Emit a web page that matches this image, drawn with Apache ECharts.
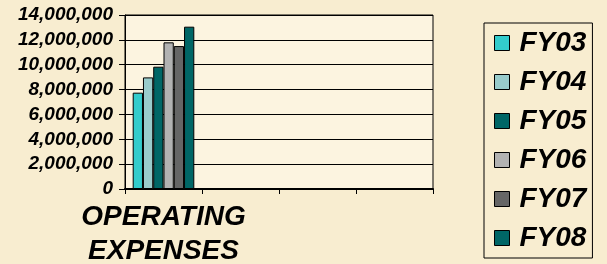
<!DOCTYPE html>
<html>
<head>
<meta charset="utf-8">
<script src="https://cdn.jsdelivr.net/npm/echarts@6/dist/echarts.min.js"></script>
<style>
html,body{margin:0;padding:0;background:#F8EDD0;}
#c{width:607px;height:264px;}
</style>
</head>
<body>
<div id="c"></div>
<script>
var categories = ['OPERATING\nEXPENSES', '', '', ''];
var seriesNames = ['FY03', 'FY04', 'FY05', 'FY06', 'FY07', 'FY08'];
var fy03 = [7750000];
var fy04 = [8980000];
var fy05 = [9840000];
var fy06 = [11800000];
var fy07 = [11500000];
var fy08 = [13060000];
var yTicks = [0, 2000000, 4000000, 6000000, 8000000, 10000000, 12000000, 14000000];
var colors = ['#33CCCC', '#99CCCC', '#006666', '#B2B2B2', '#666666', '#006666'];
var values = [fy03, fy04, fy05, fy06, fy07, fy08];

var font = "'Liberation Sans', Arial, sans-serif";
var chart = echarts.init(document.getElementById('c'));
chart.setOption({
  backgroundColor: '#F8EDD0',
  animation: false,
  grid: {
    left: 125, right: 174, top: 15, bottom: 75,
    outerBoundsMode: 'none', containLabel: false,
    show: true, backgroundColor: '#FCF4E0',
    borderColor: '#000', borderWidth: 1
  },
  legend: {
    orient: 'vertical',
    left: 484, top: 23,
    padding: [6, 6, 6, 10],
    itemGap: 11,
    itemWidth: 15, itemHeight: 15,
    icon: 'rect',
    borderColor: '#000', borderWidth: 1,
    backgroundColor: '#F8EDD0',
    itemStyle: { borderColor: '#000', borderWidth: 1 },
    textStyle: {
      fontFamily: font, fontSize: 28, fontWeight: 'bold', fontStyle: 'italic',
      color: '#000', padding: [0, 0, 0, 5], lineHeight: 28
    },
    data: seriesNames
  },
  xAxis: {
    type: 'category',
    data: categories,
    axisLine: { lineStyle: { color: '#000', width: 2 } },
    axisTick: { show: true, length: 5, lineStyle: { color: '#000' }, alignWithLabel: false },
    axisLabel: {
      interval: 0, margin: 11,
      fontFamily: font, fontSize: 28, fontWeight: 'bold', fontStyle: 'italic',
      color: '#000', lineHeight: 34
    }
  },
  yAxis: {
    type: 'value',
    min: yTicks[0], max: yTicks[yTicks.length - 1], interval: yTicks[1] - yTicks[0],
    axisLine: { show: true, lineStyle: { color: '#000', width: 1 } },
    axisTick: { show: true, length: 6, lineStyle: { color: '#000' } },
    splitLine: { lineStyle: { color: '#000', width: 1 } },
    axisLabel: {
      margin: 12,
      fontFamily: font, fontSize: 19, fontWeight: 'bold', fontStyle: 'italic',
      color: '#000',
      formatter: function (v) { return v.toLocaleString('en-US'); }
    }
  },
  series: seriesNames.map(function (n, i) {
    return {
      name: n, type: 'bar', data: values[i],
      barGap: '0%', barCategoryGap: '20%',
      itemStyle: { color: colors[i], borderColor: '#000', borderWidth: 1 }
    };
  })
});
</script>
</body>
</html>
